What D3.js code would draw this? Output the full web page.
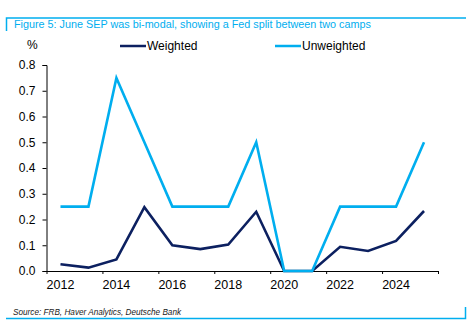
<!DOCTYPE html>
<html>
<head>
<meta charset="utf-8">
<script src="https://cdn.jsdelivr.net/npm/d3@7"></script>
<style>
  html, body { margin: 0; padding: 0; background: #fff; }
  svg { display: block; font-family: "Liberation Sans", Arial, sans-serif; }
</style>
</head>
<body>
<svg id="chart" width="476" height="331"></svg>
<script>
// June SEP dispersion, annual observations
const years = [2012, 2013, 2014, 2015, 2016, 2017, 2018, 2019, 2020, 2021, 2022, 2023, 2024, 2025];
const weighted = [0.026, 0.013, 0.045, 0.248, 0.100, 0.085, 0.103, 0.230, 0, 0, 0.094, 0.078, 0.117, 0.233];
const unweighted = [0.25, 0.25, 0.75, 0.50, 0.25, 0.25, 0.25, 0.50, 0, 0, 0.25, 0.25, 0.25, 0.50];
const yTicks = [0, 0.1, 0.2, 0.3, 0.4, 0.5, 0.6, 0.7, 0.8];
const xTicks = [2012, 2014, 2016, 2018, 2020, 2022, 2024, 2026];
const xLabels = [2012, 2014, 2016, 2018, 2020, 2022, 2024];

const NAVY = '#0c2060';
const SKY = '#00aeef';

const svg = d3.select('#chart');

// frame: title bar on top, source bar at the bottom
svg.append('path')
  .attr('d', 'M6.5,31 V18 H466')
  .attr('fill', 'none').attr('stroke', SKY).attr('stroke-width', 1.5);
svg.append('path')
  .attr('d', 'M6,318.5 H465.5 V307')
  .attr('fill', 'none').attr('stroke', SKY).attr('stroke-width', 1.5);

svg.append('text')
  .attr('x', 14).attr('y', 28)
  .attr('fill', SKY).attr('font-size', 10.8)
  .text('Figure 5: June SEP was bi-modal, showing a Fed split between two camps');

svg.append('text')
  .attr('x', 13).attr('y', 315)
  .attr('fill', '#222').attr('font-size', 8.2).attr('font-style', 'italic')
  .text('Source: FRB, Haver Analytics, Deutsche Bank');

// plot
const x = d3.scaleLinear().domain([2012, 2026]).range([46.5, 438]);
const y = d3.scaleLinear().domain([0, 0.8]).range([271, 65]);

const yAxis = svg.append('g')
  .attr('transform', 'translate(46.5,0)')
  .call(d3.axisLeft(y).tickValues(yTicks).tickFormat(d3.format('.1f')).tickSize(4).tickPadding(7));
yAxis.select('.domain').attr('stroke', '#000');
yAxis.selectAll('.tick line').attr('stroke', '#000');
yAxis.selectAll('.tick text').attr('font-size', 12).attr('fill', '#000').attr('font-family', null);

const xAxis = svg.append('g')
  .attr('transform', 'translate(0,271)')
  .call(d3.axisBottom(x).tickValues(xTicks).tickFormat('').tickSize(3).tickSizeOuter(0));
xAxis.select('.domain').attr('stroke', '#000');
xAxis.selectAll('.tick line').attr('stroke', '#000');

// year labels sit under the mid-year observations
svg.append('g').selectAll('text')
  .data(xLabels)
  .join('text')
  .attr('x', d => x(d + 0.5))
  .attr('y', 289)
  .attr('text-anchor', 'middle')
  .attr('font-size', 12.5)
  .text(d => d);

svg.append('text')
  .attr('x', 27).attr('y', 49)
  .attr('font-size', 12)
  .text('%');

const line = d3.line()
  .x((d, i) => x(years[i] + 0.5))
  .y(d => y(d));

svg.append('path')
  .datum(weighted)
  .attr('fill', 'none').attr('stroke', NAVY).attr('stroke-width', 2.6)
  .attr('stroke-linejoin', 'miter')
  .attr('d', line);

svg.append('path')
  .datum(unweighted)
  .attr('fill', 'none').attr('stroke', SKY).attr('stroke-width', 2.6)
  .attr('stroke-linejoin', 'miter')
  .attr('d', line);

// legend
const legend = [
  { name: 'Weighted', color: NAVY, x: 120 },
  { name: 'Unweighted', color: SKY, x: 275 }
];
const lg = svg.append('g').selectAll('g').data(legend).join('g')
  .attr('transform', d => `translate(${d.x},46)`);
lg.append('line')
  .attr('x1', 0).attr('x2', 26).attr('y1', 0).attr('y2', 0)
  .attr('stroke', d => d.color).attr('stroke-width', 2.5);
lg.append('text')
  .attr('x', 27).attr('y', 4)
  .attr('font-size', 12)
  .text(d => d.name);
</script>
</body>
</html>
